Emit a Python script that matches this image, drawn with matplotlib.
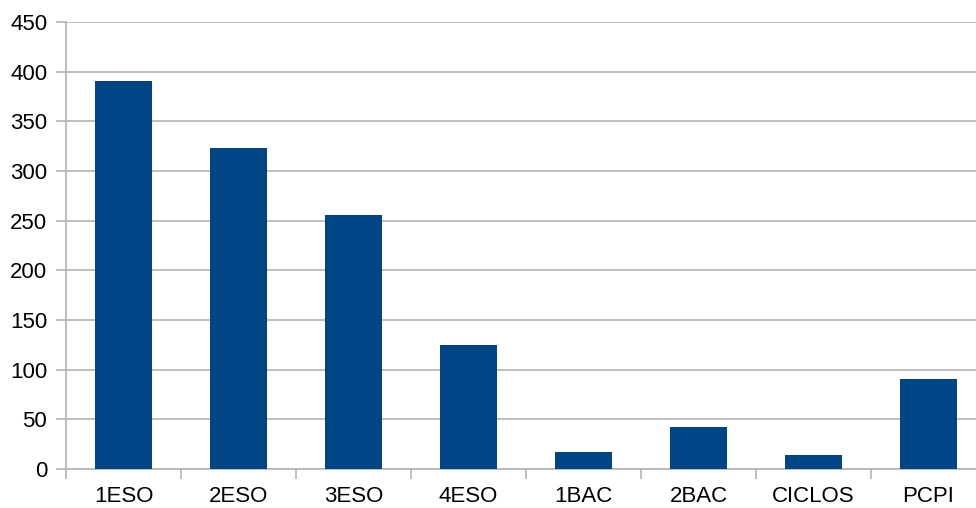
import matplotlib
matplotlib.use("Agg")
import matplotlib.pyplot as plt
import numpy as np

categories = ["1ESO", "2ESO", "3ESO", "4ESO", "1BAC", "2BAC", "CICLOS", "PCPI"]
values = [391, 323, 256, 125, 17, 42, 14, 91]
yticks = [0, 50, 100, 150, 200, 250, 300, 350, 400, 450]

plt.rcParams['font.family'] = ['Liberation Sans', 'DejaVu Sans']

fig = plt.figure(figsize=(9.76, 5.08), dpi=100)
W, H = 976, 508
left, right = 66, 986
top, bottom = 22, 469
ax = fig.add_axes([left / W, 1 - bottom / H, (right - left) / W, (bottom - top) / H])

x = np.arange(len(categories))
ax.bar(x, values, width=0.5, color="#004586", zorder=3)

ax.set_xlim(-0.5, len(categories) - 0.5)
ax.set_ylim(0, 450)
ax.set_yticks(yticks)
ax.set_yticklabels([str(v) for v in yticks])
ax.set_xticks(x)
ax.set_xticklabels(categories)
ax.set_xticks(np.arange(len(categories) + 1) - 0.5, minor=True)

grid_c = "#b3b3b3"
ax.yaxis.grid(True, color=grid_c, linewidth=1.2, zorder=0)
ax.xaxis.grid(False)
for s in ["top", "right"]:
    ax.spines[s].set_visible(False)
for s in ["left", "bottom"]:
    ax.spines[s].set_color(grid_c)
    ax.spines[s].set_linewidth(1.2)

ax.tick_params(axis="y", which="major", length=7, width=1.2, color=grid_c,
               labelsize=16, pad=6.5, labelcolor="#000000")
ax.tick_params(axis="x", which="major", length=0, labelsize=16, pad=12,
               labelcolor="#000000")
ax.tick_params(axis="x", which="minor", length=7, width=1.2, color=grid_c)

fig.savefig("out.png", dpi=100)
